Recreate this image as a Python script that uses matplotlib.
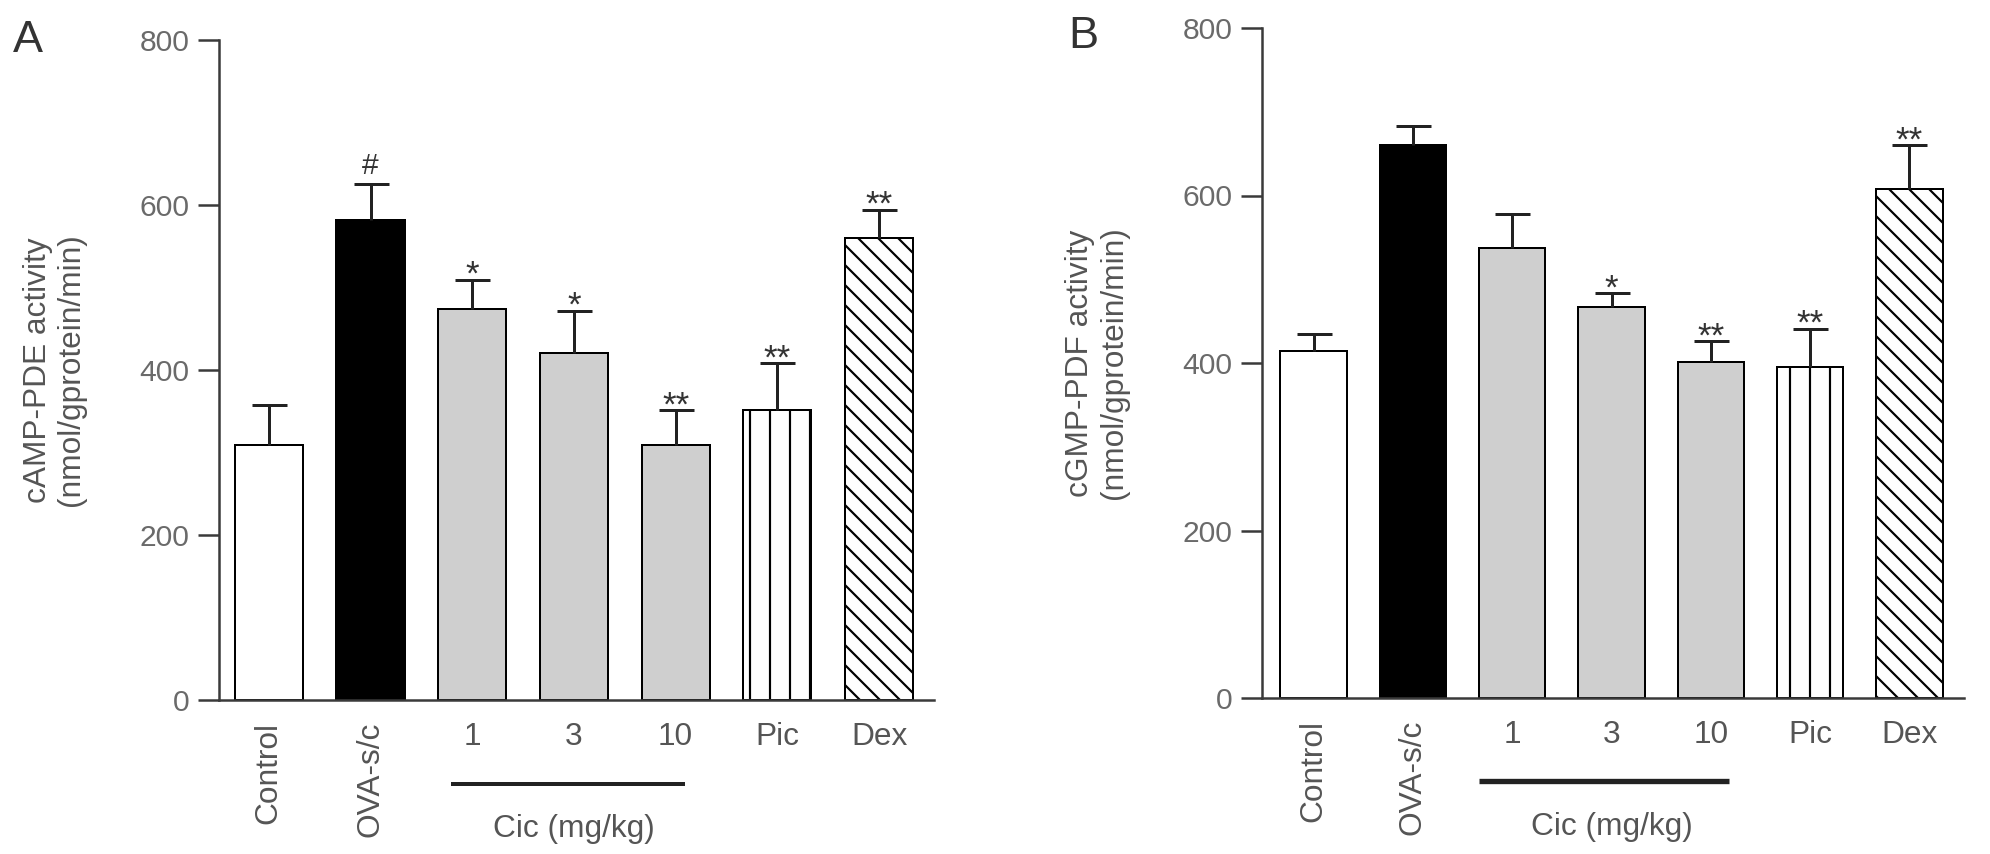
import matplotlib
matplotlib.use('Agg')
import matplotlib.pyplot as plt
import numpy as np

plt.rcParams['font.family'] = ['Liberation Sans', 'DejaVu Sans']
plt.rcParams['hatch.linewidth'] = 1.3

#groups on the x axis
groups = ['Control', 'OVA-s/c', '1', '3', '10', 'Pic', 'Dex']

#panel A, cAMP-PDE
campMean = [309, 582, 474, 421, 309, 351, 560]
campSem = [48, 43, 35, 51, 42, 57, 34]
campMarks = ['', '#', '*', '*', '**', '**', '**']

#panel B, cGMP-PDF
cgmpMean = [414, 660, 537, 467, 401, 395, 608]
cgmpSem = [21, 23, 41, 16, 25, 46, 52]
cgmpMarks = ['', '', '', '*', '**', '**', '**']

faces = ['white', 'black', '#cfcfcf', '#cfcfcf', '#cfcfcf', 'white', 'white']
hatches = [None, None, None, None, None, '|', '\\\\']

textGray = '#555555'
axisGray = '#3a3a3a'

W, H, dpi = 1991, 854, 120
fig = plt.figure(figsize=(W/dpi, H/dpi), dpi=dpi)

def f(ax, means, sems, marks, ylabel, xlim, cicLine, cicY, cicLw, labelX):
    x = np.arange(len(groups))
    for i in range(len(groups)):
        ax.bar(x[i], means[i], 0.67, color=faces[i], edgecolor='black',
               linewidth=1.2, hatch=hatches[i], zorder=2)
    eb = ax.errorbar(x, means, yerr=[np.zeros(len(x)), sems], fmt='none',
                     ecolor='#222222', elinewidth=1.8, capsize=10.5,
                     capthick=1.8, zorder=3)
    eb[1][0].set_visible(False)  #no lower caps
    for i in range(len(groups)):
        if marks[i] == '':
            continue
        if marks[i] == '#':
            ax.annotate(marks[i], (x[i], means[i]+sems[i]), xytext=(0, 6),
                        textcoords='offset points', ha='center', va='baseline',
                        fontsize=18, color='#333333')
        else:
            ax.annotate(marks[i], (x[i], means[i]+sems[i]), xytext=(0, -3),
                        textcoords='offset points', ha='center', va='baseline',
                        fontsize=21, color='#333333')
    ax.set_xlim(xlim)
    ax.set_ylim(0, 800)
    ax.set_yticks([0, 200, 400, 600, 800])
    ax.set_xticks(x)
    ax.set_xticklabels(groups)
    for lbl in ax.get_xticklabels()[:2]:
        lbl.set_rotation(90)
    for s in ['top', 'right']:
        ax.spines[s].set_visible(False)
    for s in ['left', 'bottom']:
        ax.spines[s].set_color(axisGray)
        ax.spines[s].set_linewidth(1.5)
    ax.tick_params(axis='y', length=12.6, width=1.5, color=axisGray,
                   labelsize=18, labelcolor='#6a6a6a', pad=5)
    ax.tick_params(axis='x', length=0, pad=13, labelsize=19, labelcolor=textGray)
    ax.set_ylabel(ylabel, fontsize=19, color=textGray, linespacing=1.15)
    ax.yaxis.set_label_coords(labelX, 0.5)
    tr = ax.get_xaxis_transform()
    ax.plot(cicLine, [cicY, cicY], transform=tr, color='#222222', lw=cicLw,
            clip_on=False, solid_capstyle='butt')
    ax.text(3, cicY-0.068, 'Cic (mg/kg)', transform=tr, ha='center', va='center',
            fontsize=19, color=textGray)

axA = fig.add_axes([219/W, 1-700/H, (934-219)/W, 660/H])
f(axA, campMean, campSem, campMarks, 'cAMP-PDE activity\n(nmol/gprotein/min)',
  (-0.49, 6.54), [1.79, 4.09], -0.127, 2.4, -0.186)

axB = fig.add_axes([1262/W, 1-698/H, (1964-1262)/W, 670/H])
f(axB, cgmpMean, cgmpSem, cgmpMarks, 'cGMP-PDF activity\n(nmol/gprotein/min)',
  (-0.52, 6.55), [1.67, 4.18], -0.124, 3.2, -0.19)

fig.text(13/W, 1-52/H, 'A', fontsize=27, color='#333333', ha='left', va='baseline')
fig.text(1068/W, 1-48/H, 'B', fontsize=27, color='#333333', ha='left', va='baseline')

fig.savefig('out.png', dpi=dpi)
